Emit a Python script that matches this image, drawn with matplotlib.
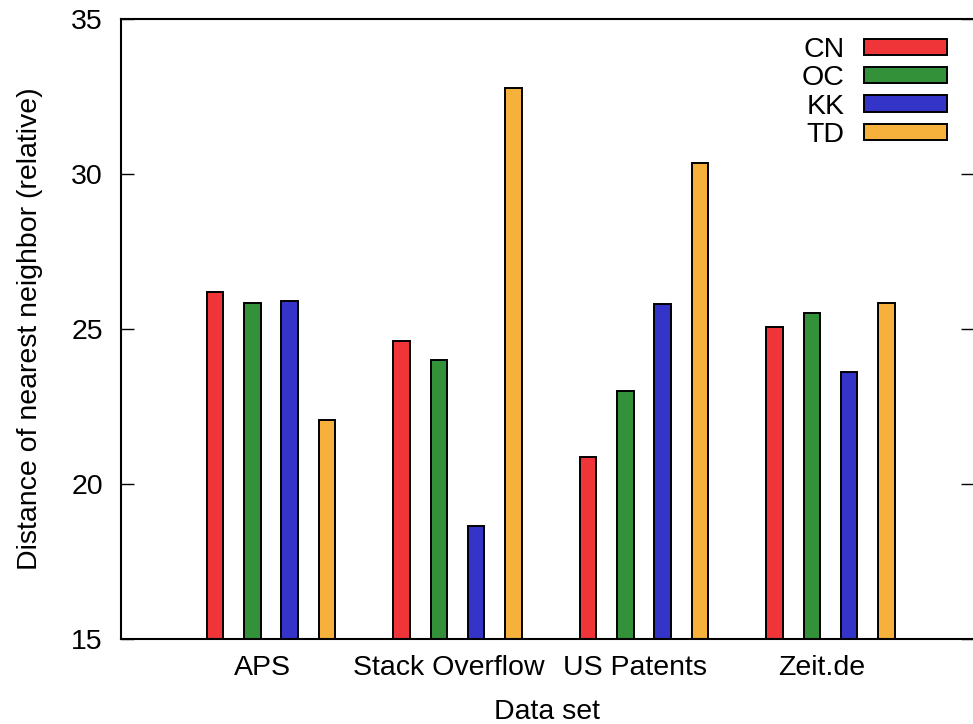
import matplotlib
matplotlib.use("Agg")
import matplotlib.pyplot as plt
import numpy as np

plt.rcParams["font.family"] = ["Liberation Sans", "DejaVu Sans"]

# data
datasets = ["APS", "Stack Overflow", "US Patents", "Zeit.de"]
methods = ["CN", "OC", "KK", "TD"]
cn = [26.2, 24.62, 20.88, 25.06]
oc = [25.85, 24.0, 23.0, 25.53]
kk = [25.9, 18.64, 25.8, 23.6]
td = [22.06, 32.8, 30.37, 25.84]
series = [cn, oc, kk, td]

COLORS = ["#f03538", "#33913a", "#3434c8", "#f5b13c"]
FS = 20.5

fig = plt.figure(figsize=(9.73, 7.24), dpi=100)
ax = fig.add_axes([0.1244, 0.1178, 0.8756, 0.8553])

group_x = np.arange(len(datasets)) * 5  # 4 bars + 1 gap per cluster
for i, (name, vals) in enumerate(zip(methods, series)):
    ax.bar(group_x + i, np.array(vals) - 15, bottom=15, width=0.44,
           color=COLORS[i], edgecolor="black", linewidth=1.4, label=name)

ax.set_ylim(15, 35)
ax.set_xlim(-2.52, 20.32)
ax.set_yticks([15, 20, 25, 30, 35])
ax.set_xticks(group_x + 1.27)
ax.set_xticklabels(datasets)

for side in ("left", "bottom", "top"):
    ax.spines[side].set_linewidth(1.5)
ax.spines["right"].set_visible(False)
ax.tick_params(axis="y", direction="in", length=9, width=1, right=True,
               labelsize=FS, pad=13)
ax.tick_params(axis="x", length=0, labelsize=FS, pad=12)

ax.set_xlabel("Data set", fontsize=FS, labelpad=13)
ax.set_ylabel("Distance of nearest neighbor (relative)", fontsize=FS, labelpad=20)

leg = ax.legend(loc="upper right", bbox_to_anchor=(0.9695, 0.9715), frameon=False,
                markerfirst=False, fontsize=FS, handlelength=2.9, handleheight=0.5,
                handletextpad=0.7, labelspacing=0.08, borderpad=0, borderaxespad=0)
for p in leg.get_patches():
    p.set_linewidth(1.4)

fig.savefig("out.png", dpi=100)
